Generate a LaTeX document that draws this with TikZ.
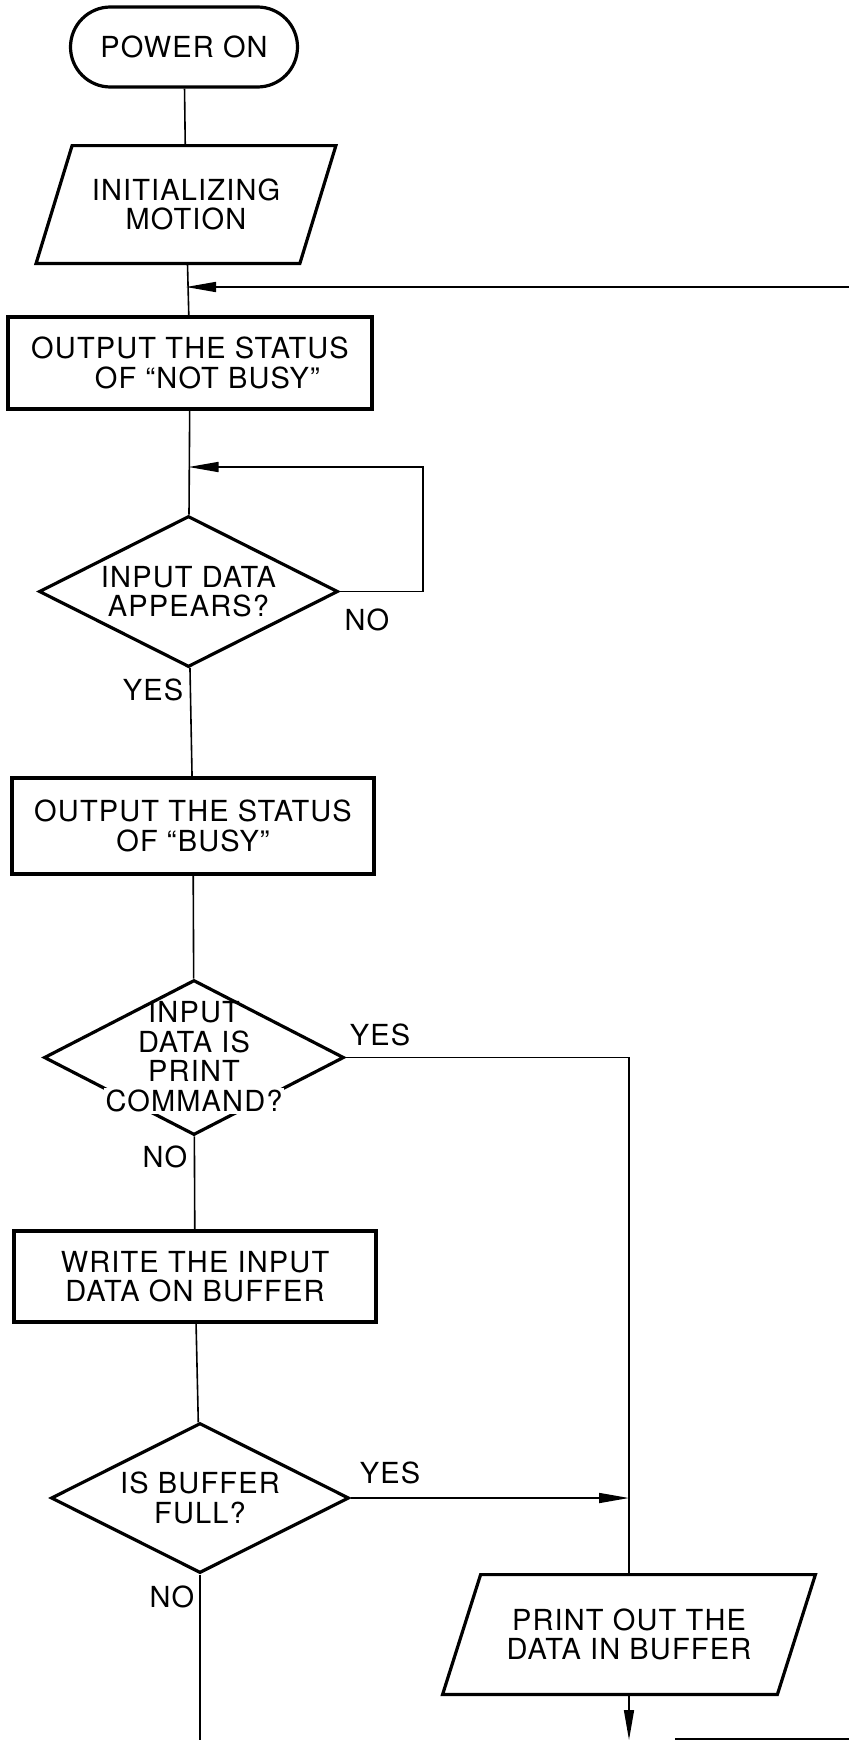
\documentclass[tikz,border=0pt]{standalone}
\usepackage{fontspec}
\setmainfont{TeX Gyre Heros}[LetterSpace=4]
\usetikzlibrary{shapes.geometric,arrows.meta}
\def\slantbox(#1)(#2){\draw[border] ([xshift=#2]#1.north west) -- ([xshift=#2]#1.north east) -- ([xshift=-#2]#1.south east) -- ([xshift=-#2]#1.south west) -- cycle;}
\tikzset{
  border/.style={line width=1.6pt, line join=miter},
  terminal/.style={draw, border, rounded corners=20pt, minimum width=113.5pt, minimum height=40pt, inner sep=0pt},
  process/.style={draw, border, align=center, inner sep=0pt},
  decision/.style={draw, border, diamond, aspect=2, align=center, inner sep=0pt},
  iotext/.style={align=center, inner sep=0pt},
  line/.style={line width=0.8pt},
  flow/.style={line, -{Triangle[length=15pt,width=5pt]}},
  tag/.style={inner sep=0pt}
}
\begin{document}
\begin{tikzpicture}[x=0.5pt, y=-0.5pt, font=\fontsize{14.5}{14.8}\selectfont]
			%%%%% FRAME %%%%%
			\fill[white] (0,0) rectangle (849,1740);
			\useasboundingbox (0,0) rectangle (849,1740);
			
			%%%%% MAIN COLUMN %%%%%
			\node[terminal] (power) at (184,47) {POWER ON};
			
			\node[iotext, minimum width=131.5pt, minimum height=58.5pt] (init) at (186,204.5) {INITIALIZING\\MOTION};
			\slantbox(init)(9pt)
			
			\node[process, minimum width=182pt, minimum height=46pt] (busyoff) at (190,363) {OUTPUT THE STATUS\\\hspace*{1.2em}OF “NOT BUSY”};
			\node[decision, minimum width=149.5pt, minimum height=75.5pt] (appears) at (188.5,591.5) {INPUT DATA\\APPEARS?};
			
			\node[process, minimum width=181pt, minimum height=48pt] (busyon) at (193,826) {OUTPUT THE STATUS\\OF “BUSY”};
			\node[decision, minimum width=150pt, minimum height=77.5pt, label={[iotext]center:INPUT\\DATA IS\\PRINT\\{\fboxsep=1pt\colorbox{white}{COMMAND?}}}] (command) at (194,1057.5) {};
			
			\node[process, minimum width=181pt, minimum height=45.5pt] (write) at (195,1276.5) {WRITE THE INPUT\\DATA ON BUFFER};
			\node[decision, minimum width=149pt, minimum height=75pt] (full) at (200,1498) {IS BUFFER\\FULL?};
			
			%%%%% RIGHT BRANCH %%%%%
			\node[iotext, minimum width=167pt, minimum height=59.5pt] (print) at (629,1634.5) {PRINT OUT THE\\DATA IN BUFFER};
			\slantbox(print)(9.5pt)
			
			%%%%% CONNECTORS %%%%%
			\draw[line] (power) -- (init);
			\draw[line] (init) -- (busyoff);
			\draw[line] (busyoff) -- (appears);
			\draw[line] (appears) -- (busyon);
			\draw[line] (busyon) -- (command);
			\draw[line] (command) -- (write);
			\draw[line] (write) -- (full);
			
			\coordinate (back) at (849,287);
			\draw[flow] (back) -- (back -| init.south);
			
			\coordinate (noturn) at (423,467);
			\draw[flow] (appears.east) -| (noturn) -- (noturn -| appears.north);
			
			\draw[line] (command.east) -| (print.north);
			\draw[flow] (full.east) -- (full.east -| print.north);
			
			\coordinate (leftend) at (200,1740);
			\draw[line] (full) -- (leftend);
			\coordinate (rightend) at (629,1740);
			\draw[flow] (print) -- (rightend);
			\coordinate (nextbox) at (675,1740);
			\draw[border] (nextbox) -- (nextbox -| back);
			
			%%%%% LABELS %%%%%
			\node[tag] (noloop) at (367,620) {NO};
			\node[tag] (yesbusy) at (153,690) {YES};
			\node[tag] (yesprint) at (380,1035) {YES};
			\node[tag] (nowrite) at (165,1157) {NO};
			\node[tag] (yesfull) at (390,1473) {YES};
			\node[tag] (nomore) at (172,1597) {NO};
			
			%%%%% END %%%%%
\end{tikzpicture}
\end{document}
